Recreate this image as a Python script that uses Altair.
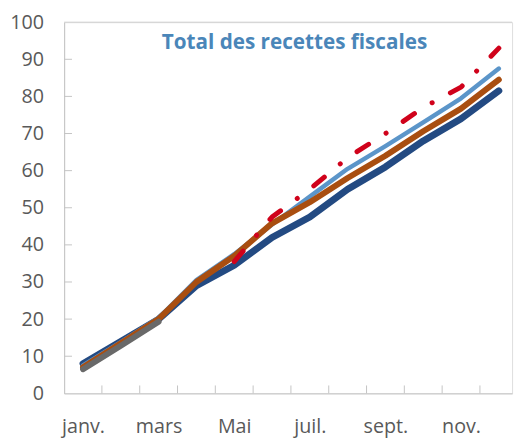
import altair as alt
import pandas as pd

months = ["janv.", "févr.", "mars", "avr.", "Mai", "juin", "juil.", "août", "sept.", "oct.", "nov.", "déc."]
month_idx = list(range(1, 13))

navy = [8, 14, 20, 29, 34.5, 42, 47.5, 55, 61, 68, 74, 81.5]
lightblue = [7.5, 13.8, 20.3, 30.5, 37.5, 45.5, 53, 60.5, 66.6, 73, 79.5, 87.5]
orange = [7, 13.5, 20, 30, 37, 45.8, 51.5, 58, 64, 70.6, 76.7, 84.5]
red_months = [5, 6, 7, 8, 9, 10, 11, 12]
red = [35.5, 47.5, 55, 63.5, 70, 77, 82.5, 93]
gray_months = [1, 2, 3]
gray = [6.5, 12.8, 19.3]

label_months = [1, 3, 5, 7, 9, 11]
y_ticks = [0, 10, 20, 30, 40, 50, 60, 70, 80, 90, 100]
x_bounds = [1.5, 2.5, 3.5, 4.5, 5.5, 6.5, 7.5, 8.5, 9.5, 10.5, 11.5]
title_text = "Total des recettes fiscales"

W, H = 455, 377
FONT = "Open Sans"
AXIS_COLOR = "#c4c4c4"
LABEL_COLOR = "#595959"

xscale = alt.Scale(domain=[0.5, 12.35], nice=False, zero=False)
yscale = alt.Scale(domain=[0, 100], nice=False)

label_expr = "[" + ",".join(f"'{m}'" for m in months) + "][datum.value - 1]"

x_axis = alt.Axis(values=label_months, labelExpr=label_expr, title=None,
                  grid=False, ticks=False, domainColor=AXIS_COLOR,
                  labelFont=FONT, labelFontSize=20, labelColor=LABEL_COLOR,
                  labelPadding=24, labelOverlap=False, labelFlush=False)
y_axis = alt.Axis(values=y_ticks, title=None, grid=False, ticks=False,
                  domainColor=AXIS_COLOR, labelFont=FONT, labelFontSize=20,
                  labelColor=LABEL_COLOR, labelPadding=21, labelOverlap=False,
                  labelFlush=False)


def X(field):
    return alt.X(field, scale=xscale, axis=x_axis)


def Y(field):
    return alt.Y(field, scale=yscale, axis=y_axis)


def line(ms, vals, color, width, dash=None):
    df = pd.DataFrame({"m": ms, "v": vals})
    kw = dict(color=color, strokeWidth=width, strokeCap="round", strokeJoin="round")
    if dash:
        kw["strokeDash"] = dash
    return alt.Chart(df).mark_line(**kw).encode(x=X("m:Q"), y=Y("v:Q"))


base_df = pd.DataFrame({"m": x_bounds})
xticks = alt.Chart(base_df).mark_rule(color=AXIS_COLOR, strokeWidth=1).encode(
    x=X("m:Q"), y=alt.value(H), y2=alt.value(H - 8))

ytick_df = pd.DataFrame({"v": y_ticks[1:-1]})
yticks = alt.Chart(ytick_df).mark_rule(color=AXIS_COLOR, strokeWidth=1).encode(
    y=Y("v:Q"), x=alt.value(0), x2=alt.value(8))

top_rule = alt.Chart(pd.DataFrame({"v": [100]})).mark_rule(color="#d0d0d0", strokeWidth=1).encode(
    y=Y("v:Q"), x=alt.value(0), x2=alt.value(W))

title = alt.Chart(pd.DataFrame({"t": [title_text]})).mark_text(
    font=FONT, fontSize=21, fontWeight="bold", color="#4a86b9", align="center", baseline="middle"
).encode(text="t:N", x=alt.value(234), y=alt.value(21))

chart = alt.layer(
    line(month_idx, navy, "#234a82", 7),
    top_rule, xticks, yticks,
    line(month_idx, lightblue, "#5b95c9", 4.5),
    line(month_idx, orange, "#a94e10", 6),
    line(gray_months, gray, "#696969", 6),
    line(red_months, red, "#d0021b", 5, dash=[14, 21, 0.1, 21]),
    title,
).properties(
    width=W, height=H,
    autosize=alt.AutoSizeParams(type="none"),
    padding={"left": 57, "top": 11, "right": 5, "bottom": 44},
).configure_view(stroke=None).configure(background="white").configure_axis(labelOverlap=False)

chart.save("out.html", embed_options={"renderer": "svg", "actions": False})
